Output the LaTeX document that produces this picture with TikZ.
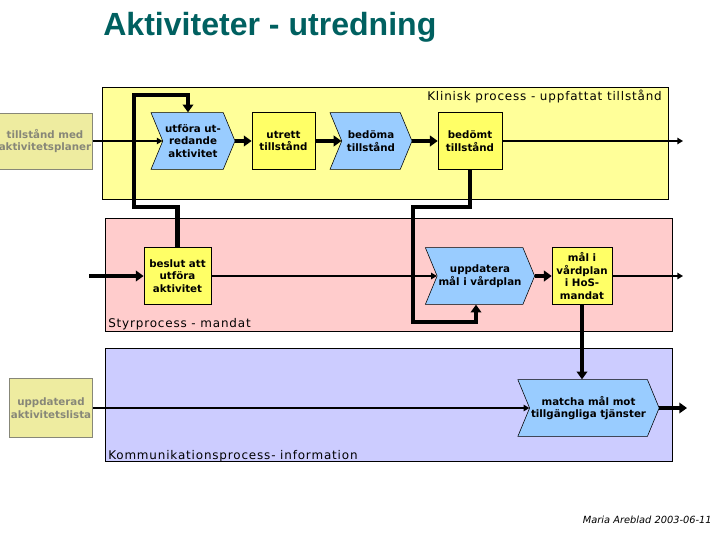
\documentclass[tikz,border=0pt]{standalone}
\usepackage{fontspec}
\setmainfont{DejaVu Sans}
\newfontfamily\titlefont{Liberation Sans}
\newfontfamily\panelfont[LetterSpace=7]{DejaVu Sans}
\usetikzlibrary{shapes.symbols,arrows.meta}
\definecolor{titleteal}{RGB}{0,96,96}
\definecolor{panelyellow}{RGB}{255,255,153}
\definecolor{panelpink}{RGB}{255,204,204}
\definecolor{panelblue}{RGB}{204,204,255}
\definecolor{boxyellow}{RGB}{255,255,102}
\definecolor{chevblue}{RGB}{153,204,255}
\definecolor{khaki}{RGB}{238,236,160}
\definecolor{khakitext}{RGB}{135,135,120}
\begin{document}
\begin{tikzpicture}
[x=0.025cm, y=-0.025cm,
 every node/.style=
   {align=center,inner sep=1pt,font=\fontsize{7.3}{8.8}\selectfont\bfseries},
 box/.style={rectangle,draw=black,fill=boxyellow,minimum height=1.42cm,minimum width=#1},
 chevron/.style={signal,signal to=east,signal from=west,signal pointer angle=135,
   draw=black,fill=chevblue,minimum height=1.42cm,minimum width=#1},
 outside/.style={rectangle,draw=khakitext,fill=khaki,text=khakitext,minimum width=#1},
 panel/.style={draw=black,line width=0.6pt},
 paneltext/.style={font=\panelfont\fontsize{8.5}{10}\selectfont,inner sep=0pt},
 flow/.style={line width=1.3pt,-{Triangle[length=4pt,width=4.5pt]}},
 heavy/.style={line width=3.1pt,-{Triangle[length=5.5pt,width=7.5pt]}}]
\useasboundingbox (0,0) rectangle (720,540);

% title
\node [anchor=base west,inner sep=0pt,text=titleteal,font=\titlefont\fontsize{22.8}{26}\selectfont\bfseries]
  (title) at (103,35) {Aktiviteter - utredning};

% process lanes
\filldraw [panel,fill=panelyellow] (102,87) rectangle (668,199);
\filldraw [panel,fill=panelpink] (105,218) rectangle (672,331);
\filldraw [panel,fill=panelblue] (105,348) rectangle (672,461);
\node [paneltext,anchor=base east] (klinisk) at (662,100) {Klinisk process - uppfattat tillstånd};
\node [paneltext,anchor=base west] (styr) at (108,327) {Styrprocess - mandat};
\node [paneltext,anchor=base west] (komm) at (108,459) {Kommunikationsprocess- information};

% outside states
\node [outside=2.25cm,minimum height=1.4cm] (plan) at (45,141) {tillstånd med\\aktivitetsplaner};
\node [outside=1.95cm,minimum height=1.48cm] (lista) at (51,408) {uppdaterad\\aktivitetslista};

% clinical process
\node [chevron=2.1cm] (utfora) at (193,141) {utföra ut-\\redande\\aktivitet};
\node [box=1.58cm] (utrett) at (283.5,141) {utrett\\tillstånd};
\node [chevron=2.05cm] (bedoma) at (371,141) {bedöma\\tillstånd};
\node [box=1.6cm] (bedomt) at (470,141) {bedömt\\tillstånd};

% control process
\node [box=1.68cm] (beslut) at (177.5,276) {beslut att\\utföra\\aktivitet};
\node [chevron=2.4cm] (uppdatera) at (480,276) {uppdatera\\mål i vårdplan};
\node [box=1.5cm] (mandat) at (582,276) {mål i\\vårdplan\\i HoS-\\mandat};

% communication process
\node [chevron=3.53cm] (matcha) at (588.5,408) {matcha mål mot\\tillgängliga tjänster};

\coordinate (in) at (89,276);
\coordinate (outA) at (683,141);
\coordinate (outB) at (683,276);
\coordinate (outC) at (687,408);

% flows
\draw [flow] (plan.east) -- (utfora.west);
\draw [heavy] (utfora.east) -- (utrett.west);
\draw [heavy] (utrett.east) -- (bedoma.west);
\draw [heavy] (bedoma.east) -- (bedomt.west);
\draw [flow] (bedomt.east) -- (outA);
\draw [heavy] (in) -- (beslut.west);
\draw [flow] (beslut.east) -- (uppdatera.west);
\draw [heavy] (uppdatera.east) -- (mandat.west);
\draw [flow] (mandat.east) -- (outB);
\draw [flow] (lista.east) -- (matcha.west);
\draw [heavy] (matcha.east) -- (outC);
\draw [heavy] (mandat.south) -- (mandat.south |- matcha.north);
\draw [heavy] (beslut.north) |- (134,207) -- (134,95)
  -| ([xshift=-0.125cm]utfora.north);
\draw [heavy] (bedomt.south) |- (413,207) -- (413,322)
  -| ([xshift=-0.1cm]uppdatera.south);

% signature
\node [anchor=base east,inner sep=0pt,font=\itshape\fontsize{7}{8}\selectfont]
  (sign) at (712,523) {Maria Areblad 2003-06-11};
\end{tikzpicture}
\end{document}
